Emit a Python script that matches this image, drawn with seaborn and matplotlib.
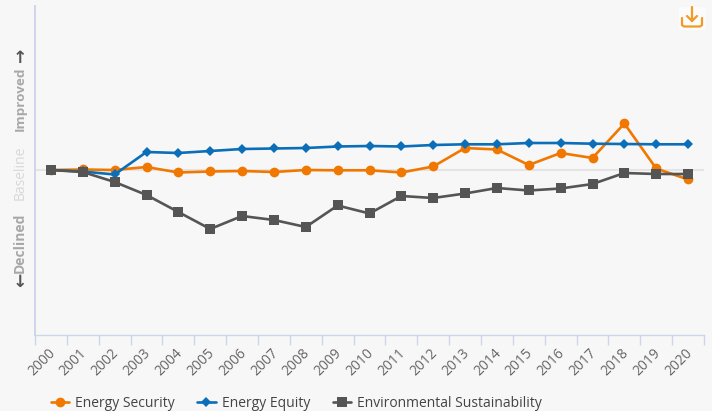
import pandas as pd
import seaborn as sns
import matplotlib.pyplot as plt
from matplotlib.patches import FancyBboxPatch

years = list(range(2000, 2021))
# values relative to the baseline
energy_security = [0.5, 1, 0.5, 3.5, -2, -1, -0.5, -1.5, 0.5, 0.2, 0.2, -2,
                   4, 22.5, 21, 5.5, 17.5, 12.5, 47, 2, -9]
energy_equity = [0.5, -1, -4, 18.5, 17.5, 19.5, 21.5, 22, 22.5, 24, 24.5, 24,
                 25.5, 26.2, 26.2, 27.5, 27.5, 26.8, 26.5, 26.2, 26.2]
env_sustainability = [0.5, -1.5, -11.5, -24.5, -41.5, -58.5, -45.5, -49.5, -56.5,
                      -35, -43, -25.5, -27.5, -23, -17.5, -20, -18, -13.5, -2.5,
                      -3.5, -3.5]
series_names = ["Energy Security", "Energy Equity", "Environmental Sustainability"]
palette = {"Energy Security": "#f07800", "Energy Equity": "#0a6fb8",
           "Environmental Sustainability": "#555555"}
markers = {"Energy Security": "o", "Energy Equity": "D",
           "Environmental Sustainability": "s"}
sizes = {"Energy Security": 7, "Energy Equity": 4.8,
         "Environmental Sustainability": 6.8}

df = pd.DataFrame({
    "year": years * 3,
    "value": energy_security + energy_equity + env_sustainability,
    "series": [n for n in series_names for _ in years],
})

sns.set_style("white")
plt.rcParams["font.family"] = ["Open Sans", "DejaVu Sans"]
bg = "#f7f7f7"
axis_col = "#ccd6eb"

fig = plt.figure(figsize=(7.12, 4.11), dpi=100, facecolor=bg)
ax = fig.add_axes([35 / 712, (411 - 334.5) / 411, (704 - 35) / 712, (334.5 - 6) / 411])
ax.set_facecolor(bg)

ax.axhline(0, color="#e4e4e4", lw=1.5, zorder=1)
sns.lineplot(data=df, x="year", y="value", hue="series", style="series",
             palette=palette, markers=markers, dashes=False, linewidth=1.9,
             legend=False, ax=ax, zorder=3)
for line, name in zip(ax.get_lines()[1:], series_names):
    line.set_markersize(sizes[name])
    line.set_markeredgewidth(0)

ax.set_xlim(1999.5, 2020.5)
ax.set_ylim(-164, 164.5)
ax.set_xlabel("")
ax.set_ylabel("")
ax.set_yticks([])
for s in ["top", "right"]:
    ax.spines[s].set_visible(False)
ax.spines["left"].set_color(axis_col)
ax.spines["left"].set_linewidth(1.4)
ax.spines["bottom"].set_color(axis_col)
ax.spines["bottom"].set_linewidth(1.0)

# ticks sit on category edges, labels under the category centres
ax.set_xticks([y - 0.5 for y in years] + [2020.5])
ax.set_xticklabels([])
ax.tick_params(axis="x", length=7.5, width=1, color=axis_col, bottom=True)
ax.set_xticks([y - 0.1 for y in years], minor=True)
ax.set_xticklabels(years, minor=True, rotation=45, ha="right", rotation_mode="anchor",
                   fontsize=10, color="#666666")
ax.tick_params(axis="x", which="minor", length=0, pad=8)

# y side labels
fig.text(20 / 712, 1 - 99 / 411, "Improved", rotation=90, ha="center", va="center",
         fontsize=9.7, fontweight="bold", color="#a8a8a8")
fig.text(20 / 712, 1 - 173 / 411, "Baseline", rotation=90, ha="center", va="center",
         fontsize=10, color="#d8d8d8")
fig.text(20 / 712, 1 - 243 / 411, "Declined", rotation=90, ha="center", va="center",
         fontsize=10, fontweight="bold", color="#a8a8a8")
fig.text(20 / 712, 1 - 58 / 411, "\u2191", ha="center", va="center", fontsize=12.5,
         fontweight="bold", color="#555555", family="DejaVu Sans")
fig.text(20 / 712, 1 - 282 / 411, "\u2193", ha="center", va="center", fontsize=12.5,
         fontweight="bold", color="#555555", family="DejaVu Sans")

# legend
handles = [plt.Line2D([], [], color=palette[n], marker=markers[n], markersize=sizes[n],
                      markeredgewidth=0, lw=1.9) for n in series_names]
fig.legend(handles, series_names, loc="lower left", bbox_to_anchor=(38 / 712, -12 / 411),
           ncol=3, frameon=False, fontsize=10, labelcolor="#444444",
           handlelength=1.3, handletextpad=0.45, columnspacing=1.65)

# export icon
orange = "#f39a24"
ix = fig.add_axes([0, 0, 1, 1], facecolor="none")
ix.set_xlim(0, 712)
ix.set_ylim(411, 0)
ix.axis("off")
ix.add_patch(FancyBboxPatch((679, 7), 27, 23, boxstyle="round,pad=0,rounding_size=2",
                            fc="#fbfbfb", ec="none"))
ix.plot([682, 682, 684, 700, 702, 702], [18, 25, 26.5, 26.5, 25, 18], color=orange, lw=1.6)
ix.plot([692, 692], [7, 21], color=orange, lw=1.6)
ix.plot([687, 692, 697], [16, 21, 16], color=orange, lw=1.6)

plt.savefig("out.png", dpi=100, facecolor=bg)
